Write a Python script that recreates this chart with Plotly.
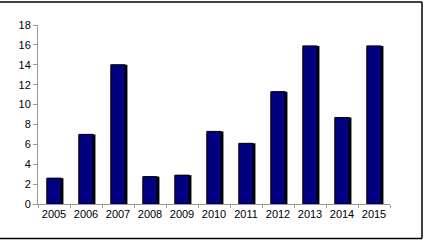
import plotly.graph_objects as go

years = ["2005", "2006", "2007", "2008", "2009", "2010", "2011", "2012", "2013", "2014", "2015"]
values = [2.6, 7.0, 14.0, 2.75, 2.9, 7.3, 6.1, 11.3, 15.9, 8.7, 15.9]
y_ticks = [0, 2, 4, 6, 8, 10, 12, 14, 16, 18]

bar_w = 0.45
fig = go.Figure()
# drop shadow
fig.add_trace(go.Bar(x=years, y=values, width=bar_w, offset=-bar_w / 2 + 0.07,
                     marker=dict(color="black", line=dict(width=0)),
                     hoverinfo="skip", showlegend=False))
fig.add_trace(go.Bar(x=years, y=values, width=bar_w, offset=-bar_w / 2,
                     marker=dict(color="#000080", line=dict(color="black", width=1)),
                     showlegend=False))

fig.update_layout(
    width=428, height=243,
    margin=dict(l=38, r=38, t=25, b=39),
    paper_bgcolor="white", plot_bgcolor="white",
    barmode="overlay",
    font=dict(family="Liberation Sans, Arial, sans-serif", size=11, color="black"),
    xaxis=dict(showline=True, linecolor="#999999", linewidth=1, ticks="outside",
               tickcolor="#999999", ticklen=3, tickson="boundaries", tickangle=0,
               showgrid=False, tickfont=dict(size=11)),
    yaxis=dict(range=[0, 18], tickvals=y_ticks, showline=True, linecolor="#999999",
               linewidth=1, ticks="outside", tickcolor="#999999", ticklen=4,
               showgrid=False, zeroline=False, tickfont=dict(size=11)),
    shapes=[
        dict(type="line", xref="paper", yref="paper", x0=-0.2, x1=1.0909, y0=1.128, y1=1.128,
             line=dict(color="black", width=1.5)),
        dict(type="line", xref="paper", yref="paper", x0=-0.2, x1=1.0909, y0=-0.193, y1=-0.193,
             line=dict(color="black", width=1.5)),
        dict(type="line", xref="paper", yref="paper", x0=1.0909, x1=1.0909, y0=-0.193, y1=1.128,
             line=dict(color="black", width=1.5)),
    ],
)

fig.write_html("out.html")
